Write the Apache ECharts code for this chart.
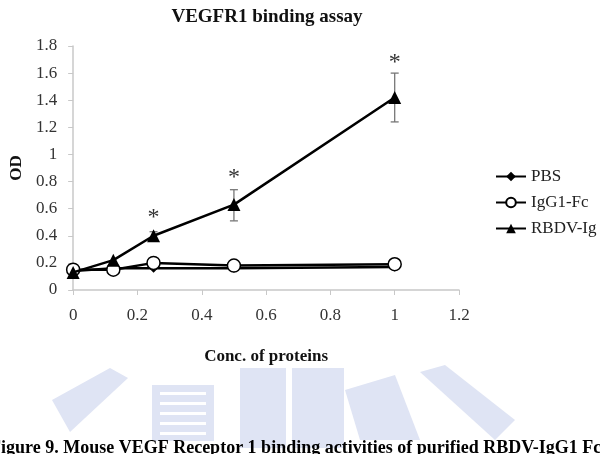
<!DOCTYPE html>
<html>
<head>
<meta charset="utf-8">
<script src="https://cdn.jsdelivr.net/npm/echarts@6/dist/echarts.min.js"></script>
<style>
  html, body { margin: 0; padding: 0; background: #fff; }
  #chart { width: 600px; height: 454px; }
</style>
</head>
<body>
<div id="chart"></div>
<script>
// data
const conc = [0, 0.125, 0.25, 0.5, 1];
const pbs = [0.14, 0.16, 0.16, 0.16, 0.17];
const igg1Fc = [0.15, 0.15, 0.20, 0.18, 0.19];
const rbdvIg = [0.13, 0.22, 0.40, 0.63, 1.42];
// error bars: [x, low, high]
const rbdvErr = [[0.25, 0.37, 0.43], [0.5, 0.51, 0.74], [1, 1.24, 1.60]];
// significance stars: [x, y]
const stars = [[0.25, 0.53], [0.5, 0.83], [1, 1.68]];
const xTicks = [0, 0.2, 0.4, 0.6, 0.8, 1, 1.2];
const yTicks = [0, 0.2, 0.4, 0.6, 0.8, 1, 1.2, 1.4, 1.6, 1.8];

const serif = '"Liberation Serif", "DejaVu Serif", serif';
const pairs = arr => conc.map((x, i) => [x, arr[i]]);

const chart = echarts.init(document.getElementById('chart'));

// faint watermark logo behind the caption
const wm = { fill: '#dfe4f4' };
const watermark = [
  { type: 'polygon', shape: { points: [[52, 400], [110, 368], [128, 378], [70, 432]] }, style: wm },
  { type: 'rect', shape: { x: 152, y: 385, width: 62, height: 56 }, style: wm },
  { type: 'rect', shape: { x: 240, y: 368, width: 46, height: 80 }, style: wm },
  { type: 'rect', shape: { x: 292, y: 368, width: 52, height: 80 }, style: wm },
  { type: 'polygon', shape: { points: [[345, 390], [395, 375], [420, 440], [360, 440]] }, style: wm },
  { type: 'polygon', shape: { points: [[420, 372], [445, 365], [515, 420], [495, 440]] }, style: wm }
];
// stripes on the logo box
for (let i = 0; i < 5; i++) {
  watermark.push({ type: 'rect', shape: { x: 160, y: 392 + i * 10, width: 46, height: 3 }, style: { fill: '#fff' } });
}

const option = {
  animation: false,
  backgroundColor: '#fff',
  title: {
    text: 'VEGFR1 binding assay',
    left: 262,
    textAlign: 'center',
    top: 3,
    textStyle: { fontFamily: serif, fontSize: 19, fontWeight: 'bold', color: '#111' }
  },
  graphic: watermark.concat([
    {
      type: 'text',
      left: -10,
      top: 439,
      z: 10,
      style: {
        text: 'Figure 9. Mouse VEGF Receptor 1 binding activities of purified RBDV-IgG1 Fc fusion protein',
        font: 'bold 18px "Liberation Serif", serif',
        fill: '#000'
      }
    }
  ]),
  legend: {
    orient: 'vertical',
    left: 490,
    top: 163,
    itemGap: 9,
    itemWidth: 30,
    itemHeight: 12,
    textStyle: { fontFamily: serif, fontSize: 17, color: '#222' },
    data: ['PBS', 'IgG1-Fc', 'RBDV-Ig']
  },
  grid: { left: 68, top: 46, width: 391, height: 244 },
  xAxis: {
    type: 'value',
    min: 0,
    max: 1.2,
    interval: 0.2,
    name: 'Conc. of proteins',
    nameLocation: 'middle',
    nameGap: 58,
    nameTextStyle: { fontFamily: serif, fontSize: 17, fontWeight: 'bold', color: '#111' },
    axisLine: { lineStyle: { color: '#c8c8c8', width: 1.5 } },
    axisTick: { show: true, length: 5, lineStyle: { color: '#c8c8c8' } },
    axisLabel: {
      margin: 17,
      fontFamily: serif, fontSize: 17, color: '#333',
      formatter: v => (xTicks.indexOf(+v.toFixed(1)) >= 0 ? String(+v.toFixed(1)) : '')
    },
    splitLine: { show: false }
  },
  yAxis: {
    type: 'value',
    min: 0,
    max: 1.8,
    interval: 0.2,
    name: 'OD',
    nameLocation: 'middle',
    nameGap: 47,
    nameRotate: 90,
    nameTextStyle: { fontFamily: serif, fontSize: 17, fontWeight: 'bold', color: '#111' },
    axisLine: { show: true, lineStyle: { color: '#c8c8c8', width: 1.5 } },
    axisTick: { show: true, length: 5, lineStyle: { color: '#c8c8c8' } },
    axisLabel: {
      margin: 16,
      fontFamily: serif, fontSize: 17, color: '#333',
      formatter: v => (yTicks.indexOf(+v.toFixed(1)) >= 0 ? String(+v.toFixed(1)) : '')
    },
    splitLine: { show: false }
  },
  series: [
    {
      name: 'PBS',
      type: 'line',
      data: pairs(pbs),
      symbol: 'diamond',
      symbolSize: 9,
      z: 3,
      lineStyle: { color: '#000', width: 2.5 },
      itemStyle: { color: '#000' }
    },
    {
      name: 'IgG1-Fc',
      type: 'line',
      data: pairs(igg1Fc),
      symbol: 'circle',
      symbolSize: 13,
      z: 4,
      lineStyle: { color: '#000', width: 2.5 },
      itemStyle: { color: '#fff', borderColor: '#000', borderWidth: 1.5 }
    },
    {
      name: 'RBDV-Ig',
      type: 'line',
      data: pairs(rbdvIg),
      symbol: 'triangle',
      symbolSize: 13,
      z: 5,
      lineStyle: { color: '#000', width: 2.5 },
      itemStyle: { color: '#000' }
    },
    {
      type: 'custom',
      data: rbdvErr,
      z: 2,
      renderItem: (params, api) => {
        const x = api.value(0);
        const lo = api.coord([x, api.value(1)]);
        const hi = api.coord([x, api.value(2)]);
        const w = 4;
        const st = { stroke: '#777', lineWidth: 1.3 };
        return {
          type: 'group',
          children: [
            { type: 'line', shape: { x1: lo[0], y1: lo[1], x2: hi[0], y2: hi[1] }, style: st },
            { type: 'line', shape: { x1: lo[0] - w, y1: lo[1], x2: lo[0] + w, y2: lo[1] }, style: st },
            { type: 'line', shape: { x1: hi[0] - w, y1: hi[1], x2: hi[0] + w, y2: hi[1] }, style: st }
          ]
        };
      }
    },
    {
      type: 'custom',
      data: stars,
      z: 6,
      renderItem: (params, api) => {
        const p = api.coord([api.value(0), api.value(1)]);
        return {
          type: 'text',
          x: p[0],
          y: p[1],
          style: {
            text: '*',
            font: '24px "Liberation Serif", serif',
            fill: '#333',
            align: 'center',
            verticalAlign: 'middle'
          }
        };
      }
    }
  ]
};

chart.setOption(option);
</script>
</body>
</html>
